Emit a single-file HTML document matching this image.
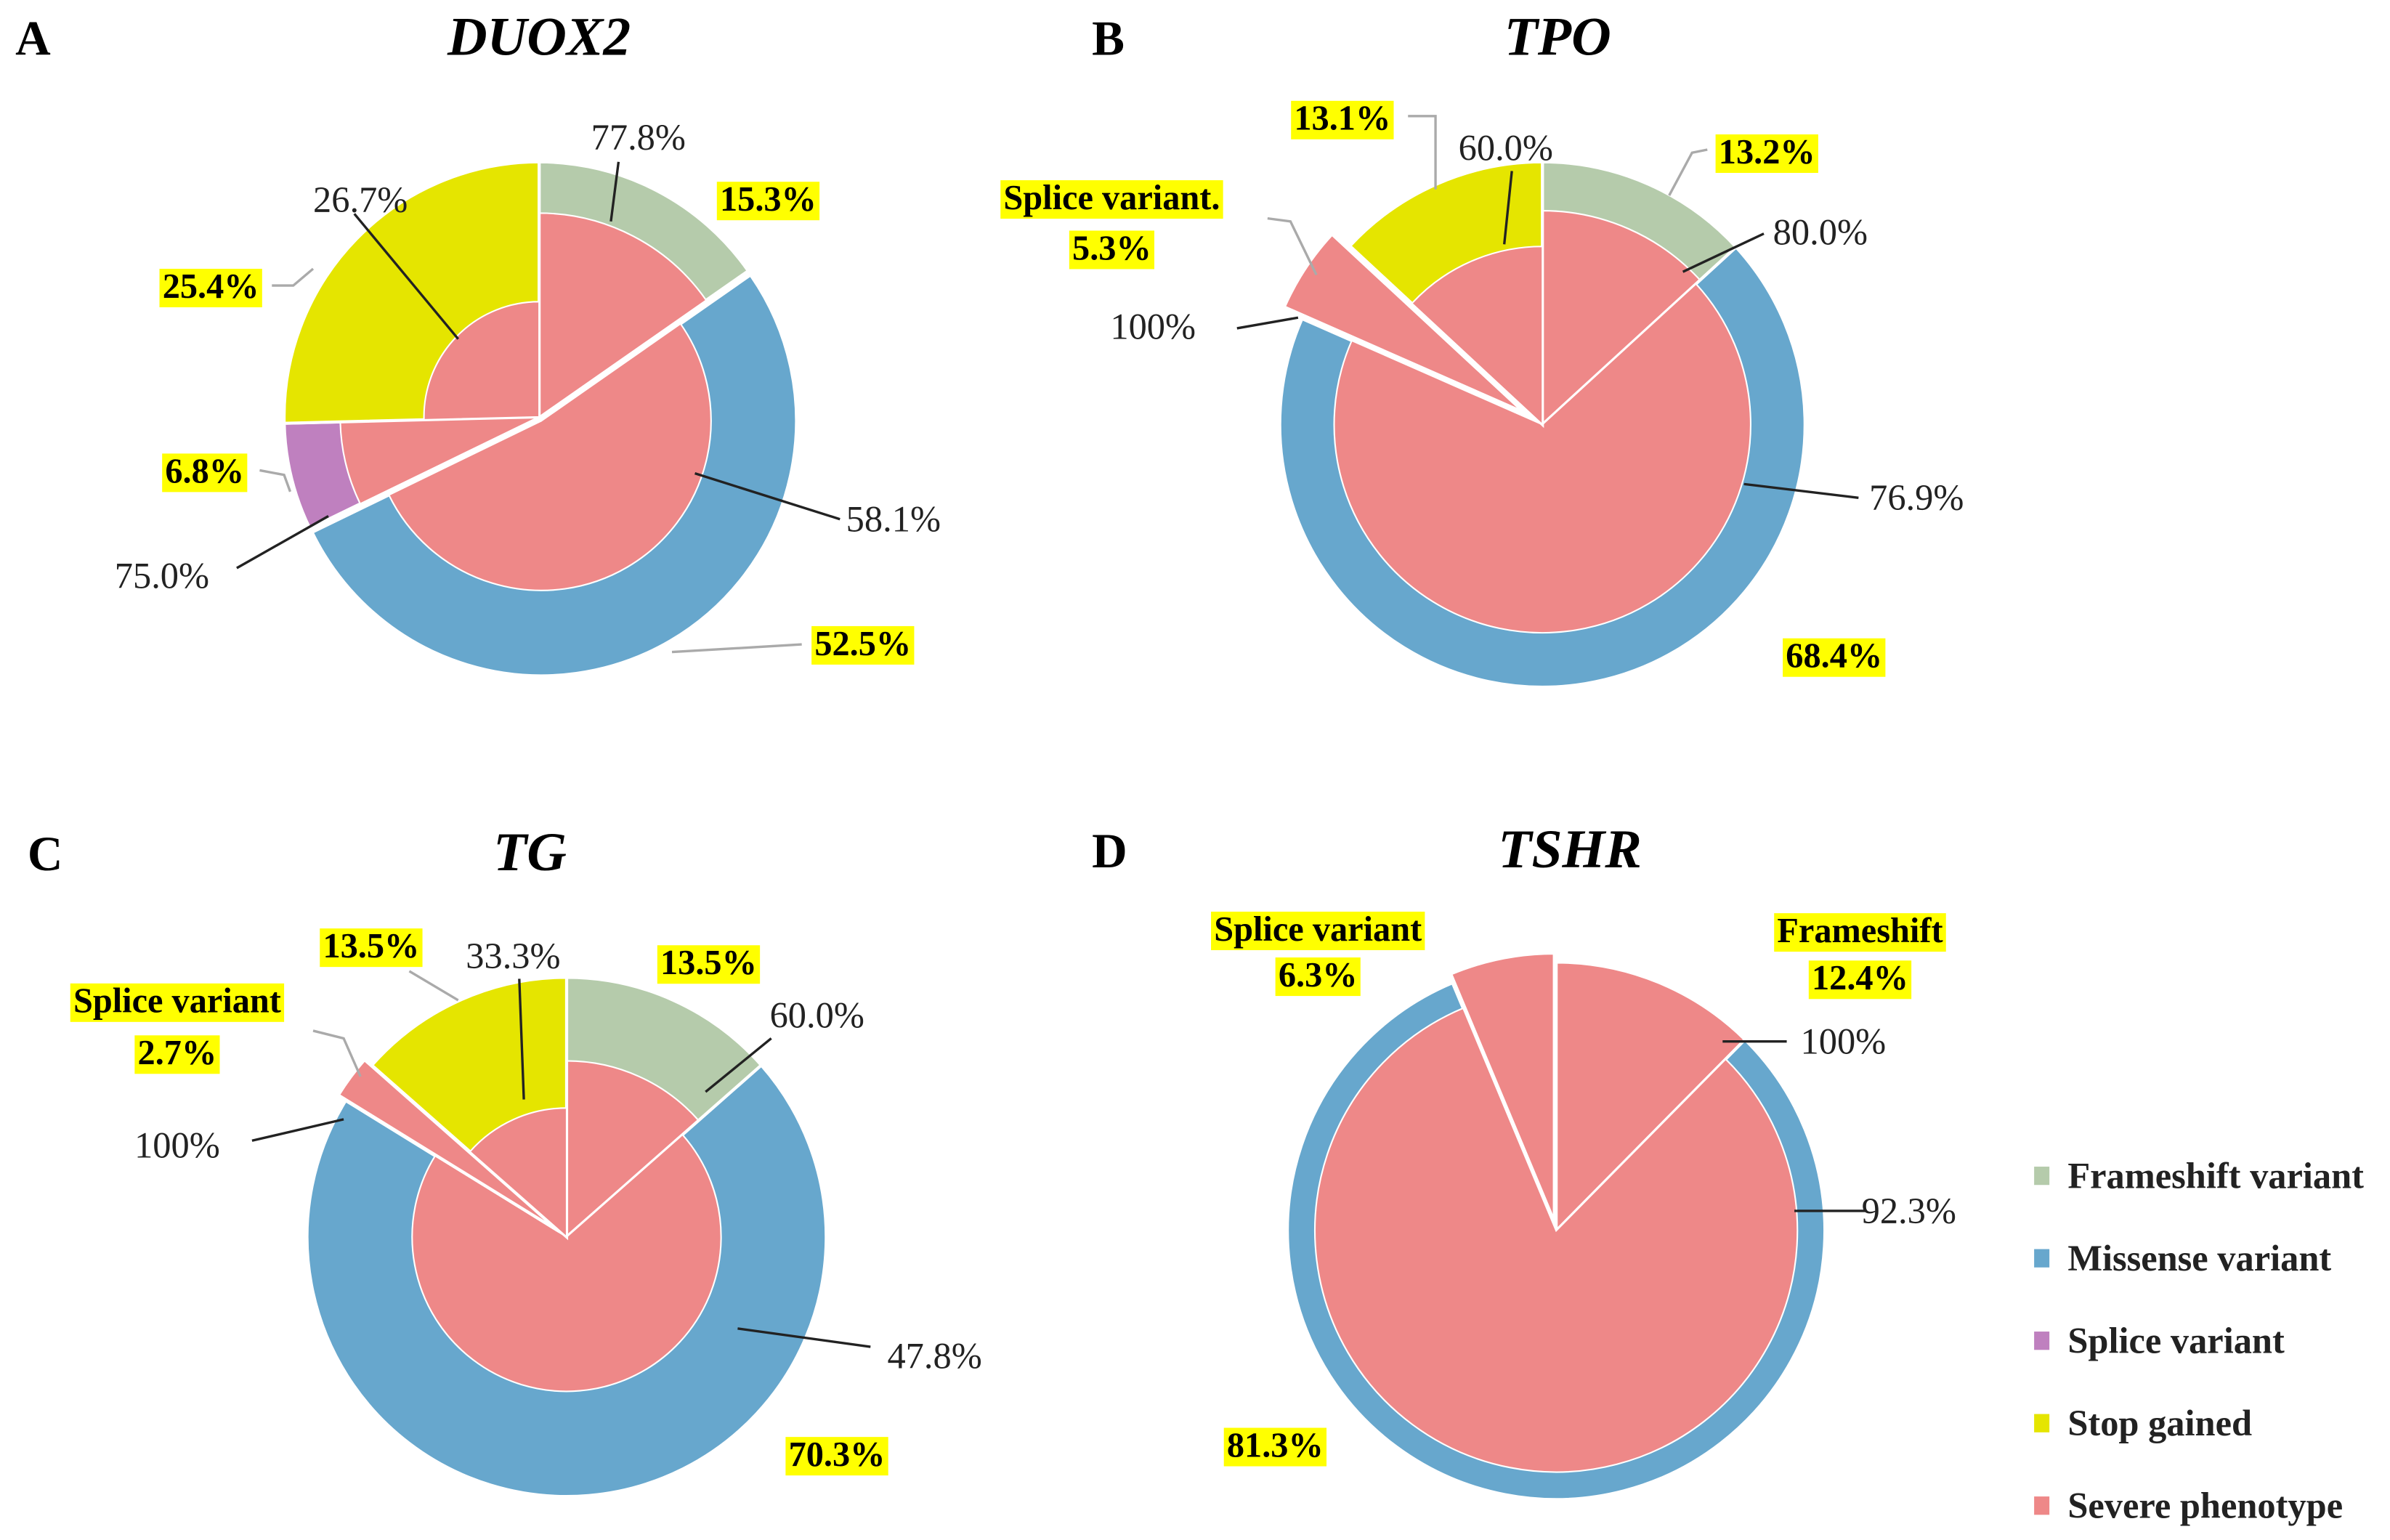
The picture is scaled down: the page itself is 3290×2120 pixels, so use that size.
<!DOCTYPE html>
<html><head><meta charset="utf-8">
<style>
html,body{margin:0;padding:0;background:#fff;}
svg{display:block;}
text{font-family:"Liberation Serif","DejaVu Serif",serif;}
</style></head>
<body>
<svg id="fig" width="3290" height="2120" viewBox="0 0 1565 1008.5" xmlns="http://www.w3.org/2000/svg">
  <g id="hl-layer"></g>
  <g id="pies"></g>
  <g id="lines"></g>
  <g id="texts"></g>
</svg>
<script>
// ---- data ----
const categories = ["Frameshift variant","Missense variant","Splice variant","Stop gained"];
const genes = ["DUOX2","TPO","TG","TSHR"];
const shareDUOX2 = [15.3, 52.5, 6.8, 25.4];
const shareTPO = [13.2, 68.4, 5.3, 13.1];
const shareTG = [13.5, 70.3, 2.7, 13.5];
const shareTSHR = [12.4, 81.3, 6.3, 0];
const severeDUOX2 = [77.8, 58.1, 75.0, 26.7];
const severeTPO = [80.0, 76.9, 100, 60.0];
const severeTG = [60.0, 47.8, 100, 33.3];
const severeTSHR = [100, 92.3, 100, 0];
const colors = ["#b5cbab","#67a7cd","#bf80bf","#e5e500"];
const severeColor = "#ee8888";

const NS = "http://www.w3.org/2000/svg";
const panels = [
  {gene:"DUOX2", share:shareDUOX2, severe:severeDUOX2, cx:353, cy:273, R:167, explode:[0,3,0,0], letter:"A", lx:10, ly:36, tx:353, ty:36},
  {gene:"TPO", share:shareTPO, severe:severeTPO, cx:1010, cy:278, R:172, explode:[0,0,14,0], letter:"B", lx:715, ly:36, tx:1020, ty:36},
  {gene:"TG", share:shareTG, severe:severeTG, cx:371, cy:810, R:170, explode:[0,0,6,0], letter:"C", lx:18, ly:570, tx:347, ty:570},
  {gene:"TSHR", share:shareTSHR, severe:severeTSHR, cx:1019, cy:806, R:176, explode:[0,0,6,0], letter:"D", lx:715, ly:568, tx:1028, ty:568}
];
function pt(cx,cy,r,a){return [cx+r*Math.sin(a), cy-r*Math.cos(a)];}
function wedge(cx,cy,r,a0,a1){
  const p0=pt(cx,cy,r,a0), p1=pt(cx,cy,r,a1);
  const large=(a1-a0)>Math.PI?1:0;
  return `M${cx},${cy} L${p0[0]},${p0[1]} A${r},${r} 0 ${large} 1 ${p1[0]},${p1[1]} Z`;
}
function innerRatio(v){return v>=100?1:Math.min(1,0.27+0.68*v/100);}
const pies=document.getElementById('pies');
panels.forEach((p,pi)=>{
  const g=document.createElementNS(NS,'g');
  
  
  pies.appendChild(g);
  const total=p.share.reduce((a,b)=>a+b,0);
  let a=0;
  p.share.forEach((v,i)=>{
    if(v<=0) return;
    const a0=a, a1=a+v/total*2*Math.PI; a=a1;
    const mid=(a0+a1)/2, ex=p.explode[i];
    const cx=p.cx+ex*Math.sin(mid), cy=p.cy-ex*Math.cos(mid);
    const outer=document.createElementNS(NS,'path');
    outer.setAttribute('d',wedge(cx,cy,p.R,a0,a1));
    outer.setAttribute('fill',colors[i]);
    outer.setAttribute('stroke','#fff'); outer.setAttribute('stroke-width','2');
    
    
    g.appendChild(outer);
    const inner=document.createElementNS(NS,'path');
    const r = p.R*innerRatio(p.severe[i]);
    inner.setAttribute('d',wedge(cx,cy,r,a0,a1));
    inner.setAttribute('fill',severeColor);
    inner.setAttribute('stroke','#fff'); inner.setAttribute('stroke-width', p.severe[i]>=100?'2':'1');
    
    
    g.appendChild(inner);
  });
});
// labels: [text, x, y, bold/highlight]
const labels=[
 ["77.8%",418,98,0],["15.3%",503,138,1],["26.7%",236,139,0],["25.4%",138,195,1],["6.8%",134,316,1],["75.0%",106,385,0],["58.1%",585,348,0],["52.5%",565,429,1],
 ["13.1%",879,85,1],["60.0%",986,105,0],["13.2%",1157,107,1],["Splice variant.",728,137,1],["5.3%",728,170,1],["100%",755,222,0],["80.0%",1192,160,0],["76.9%",1255,334,0],["68.4%",1201,437,1],
 ["13.5%",243,627,1],["33.3%",336,634,0],["13.5%",464,638,1],["Splice variant",116,663,1],["2.7%",116,697,1],["60.0%",535,673,0],["100%",116,758,0],["47.8%",612,896,0],["70.3%",548,960,1],
 ["Splice variant",863,616,1],["6.3%",863,646,1],["Frameshift",1218,617,1],["12.4%",1218,648,1],["100%",1207,690,0],["92.3%",1250,801,0],["81.3%",835,954,1]
];
const leaders=[
 [[405,106],[400,145],"#222"],[[232,140],[300,222],"#222"],[[178,187],[192,187],[205,176],"#aaa"],[[170,308],[186,311],[190,322],"#aaa"],[[155,372],[215,338],"#222"],[[455,310],[550,340],"#222"],[[440,427],[525,422],"#aaa"],
 [[922,76],[940,76],[940,124],"#aaa"],[[990,112],[985,160],"#222"],[[1118,98],[1108,100],[1093,128],"#aaa"],[[830,143],[845,145],[862,180],"#aaa"],[[810,215],[850,208],"#222"],[[1155,153],[1102,178],"#222"],[[1142,317],[1217,326],"#222"],
 [[268,636],[300,655],"#aaa"],[[340,641],[343,720],"#222"],[[505,680],[462,715],"#222"],[[205,675],[225,680],[236,705],"#aaa"],[[165,747],[225,733],"#222"],[[483,870],[570,882],"#222"],
 [[1128,682],[1170,682],"#222"],[[1175,793],[1222,793],"#222"]
];
const L=document.getElementById('lines');
leaders.forEach((l,i)=>{
  const pl=document.createElementNS(NS,'polyline');
  pl.setAttribute('points',l.slice(0,-1).map(q=>q.join(',')).join(' '));
  pl.setAttribute('fill','none'); pl.setAttribute('stroke',l[l.length-1]); pl.setAttribute('stroke-width','1.6');
  
  
  L.appendChild(pl);
});
const T=document.getElementById('texts'), H=document.getElementById('hl-layer');
labels.forEach(l=>{
  const t=document.createElementNS(NS,'text');
  t.textContent=l[0];
  t.setAttribute('x',l[1]); t.setAttribute('y',l[2]);
  t.setAttribute('text-anchor','middle');
  t.setAttribute('font-size','24');
  t.setAttribute('fill','#222');
  if(l[3]){t.setAttribute('font-weight','bold'); t.setAttribute('font-size','23'); t.setAttribute('fill','#000');}
  
  
  T.appendChild(t);
  if(l[3]){
    const b=t.getBBox();
    const r=document.createElementNS(NS,'rect');
    r.setAttribute('x',b.x-2); r.setAttribute('y',b.y+1); r.setAttribute('width',b.width+4); r.setAttribute('height',b.height);
    r.setAttribute('fill','#ffff00');
    
    
    H.appendChild(r);
  }
});
panels.forEach(p=>{
  const a=document.createElementNS(NS,'text');
  a.textContent=p.letter; a.setAttribute('x',p.lx); a.setAttribute('y',p.ly);
  a.setAttribute('font-size','32'); a.setAttribute('font-weight','bold');
  
  
  T.appendChild(a);
  const t=document.createElementNS(NS,'text');
  t.textContent=p.gene; t.setAttribute('x',p.tx); t.setAttribute('y',p.ty);
  t.setAttribute('text-anchor','middle'); t.setAttribute('font-size','36');
  t.setAttribute('font-weight','bold'); t.setAttribute('font-style','italic');
  
  
  T.appendChild(t);
});
// legend
const legendNames=["Frameshift variant","Missense variant","Splice variant","Stop gained","Severe phenotype"];
const legendColors=colors.concat([severeColor]);
legendNames.forEach((n,i)=>{
  const y=770+i*54;
  const g=document.createElementNS(NS,'g');
  
  
  const r=document.createElementNS(NS,'rect');
  r.setAttribute('x',1332); r.setAttribute('y',y-6); r.setAttribute('width',10); r.setAttribute('height',12);
  r.setAttribute('fill',legendColors[i]);
  
  
  const t=document.createElementNS(NS,'text');
  t.textContent=n; t.setAttribute('x',1354); t.setAttribute('y',y+8);
  t.setAttribute('font-size','24'); t.setAttribute('font-weight','bold'); t.setAttribute('fill','#222');
  
  
  g.appendChild(r); g.appendChild(t); T.appendChild(g);
});
</script>
</body></html>
